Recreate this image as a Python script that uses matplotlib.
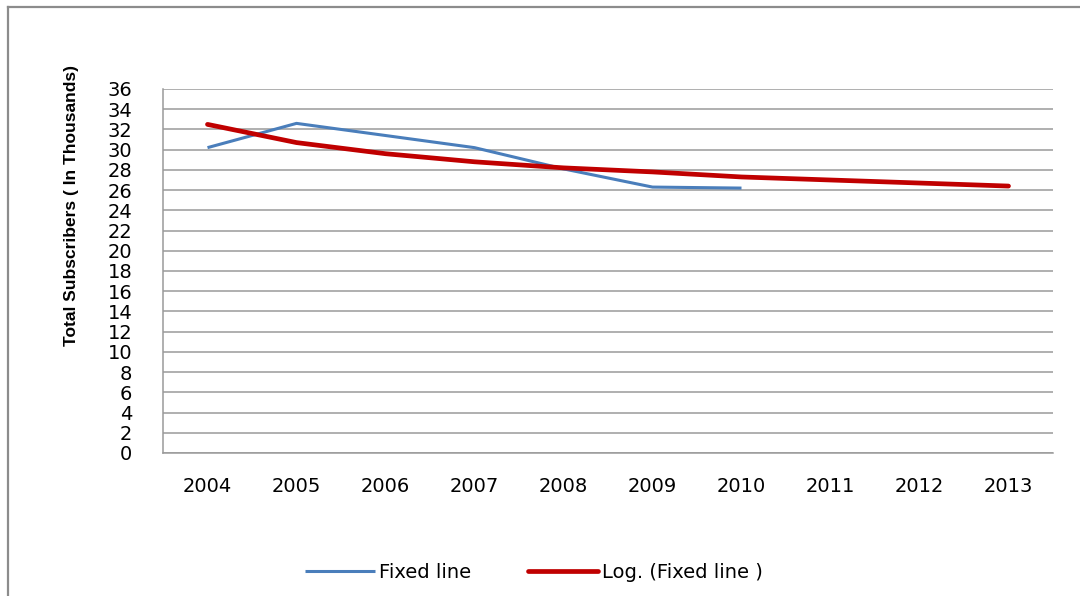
import matplotlib.pyplot as plt
from matplotlib.lines import Line2D

# valeurs
years = ["2004", "2005", "2006", "2007", "2008", "2009", "2010", "2011", "2012", "2013"]
fixed_line = [30.2, 32.6, 31.4, 30.2, 28.1, 26.3, 26.2]
log_trend = [32.5, 30.7, 29.6, 28.8, 28.2, 27.8, 27.3, 27.0, 26.7, 26.4]
yticks = list(range(0, 37, 2))

fig = plt.figure(figsize=(10.8, 5.96), dpi=100)
ax = fig.add_axes([163/1080, 1-453/596, (1053-163)/1080, (453-89)/596])

x_fixed = range(len(fixed_line))
x_log = range(len(log_trend))
ax.plot(x_fixed, fixed_line, color="#4a7ebb", lw=2.2, label="Fixed line", solid_capstyle="butt")
ax.plot(x_log, log_trend, color="#c00000", lw=3.4, label="Log. (Fixed line )", solid_capstyle="round")

ax.set_xlim(-0.5, len(years)-0.5)
ax.set_ylim(0, 36)
ax.set_yticks(yticks)
ax.set_xticks(range(len(years)))
ax.set_xticklabels(years)
ax.tick_params(length=0, labelsize=14, colors="black")
ax.tick_params(axis="x", pad=17)
ax.tick_params(axis="y", pad=22)
ax.grid(axis="y", color="#9a9a9a", lw=1.1)
ax.set_axisbelow(True)
for s in ["top", "right"]:
    ax.spines[s].set_visible(False)
for s in ["left", "bottom"]:
    ax.spines[s].set_color("#9a9a9a")
    ax.spines[s].set_linewidth(1.1)

fig.text(72/1080, 1-206/596, "Total Subscribers ( In Thousands)", rotation=90,
         ha="center", va="center", fontsize=12.5, fontweight="bold",
         family=["Liberation Sans", "DejaVu Sans"])

fig.legend(loc="center", bbox_to_anchor=(534/1080, 1-572/596), ncol=2, frameon=False,
           fontsize=14, handlelength=3.6, handletextpad=0.2, columnspacing=2.9)

# cadre extérieur
fig.add_artist(Line2D([8/1080, 8/1080], [0, 1-7/596], color="#8c8c8c", lw=1.6))
fig.add_artist(Line2D([8/1080, 1], [1-7/596, 1-7/596], color="#8c8c8c", lw=1.6))

fig.savefig("out.png", dpi=100)
